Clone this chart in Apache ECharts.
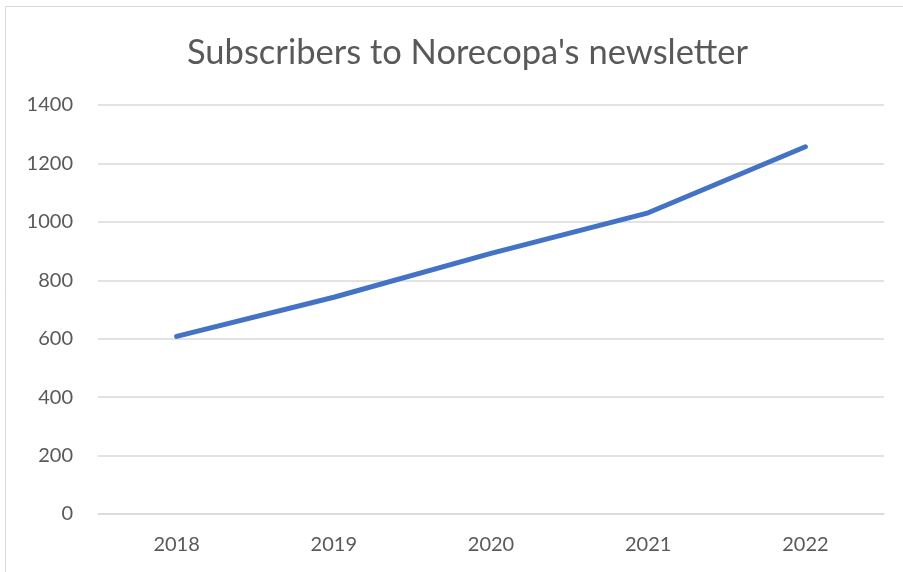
<!DOCTYPE html>
<html><head><meta charset="utf-8">
<script src="https://cdn.jsdelivr.net/npm/echarts@6/dist/echarts.min.js"></script>
<style>html,body{margin:0;padding:0;background:#fff}#c{width:903px;height:572px}</style>
</head><body><div id="c"></div>
<script>
const titleText = "Subscribers to Norecopa's newsletter";
const years = ['2018','2019','2020','2021','2022'];
const subscribers = [608, 742, 892, 1031, 1257];
const yMin = 0, yMax = 1400, yStep = 200;

const chart = echarts.init(document.getElementById('c'));
const font = 'Lato, "Open Sans", sans-serif';
chart.setOption({
  animation: false,
  graphic: [{type:'rect', shape:{x:5.5,y:6.5,width:1000,height:1000}, style:{fill:'none', stroke:'#d9d9d9', lineWidth:1}}],
  title: {text: titleText, left: 182, top: 30, textStyle:{fontFamily: font, fontSize: 34.5, fontWeight:'normal', color:'#595959'}},
  grid: {left: 98, right: 19, top: 105, bottom: 58},
  xAxis: {type:'category', data: years, boundaryGap: true,
    axisLine:{show:true, lineStyle:{color:'#d9d9d9', width:1.5}}, axisTick:{show:false},
    axisLabel:{fontFamily: font, fontSize: 20, color:'#595959', margin: 21}},
  yAxis: {type:'value', min: yMin, max: yMax, interval: yStep,
    axisLine:{show:false}, axisTick:{show:false},
    splitLine:{lineStyle:{color:'#d9d9d9', width:1.5}},
    axisLabel:{fontFamily: font, fontSize: 20, color:'#595959', margin: 25,
      formatter: v => String(v)}},
  series: [{type:'line', data: subscribers, showSymbol:false, symbol:'none',
    lineStyle:{color:'#4472C4', width:5, cap:'round', join:'round'}}]
});
</script></body></html>
